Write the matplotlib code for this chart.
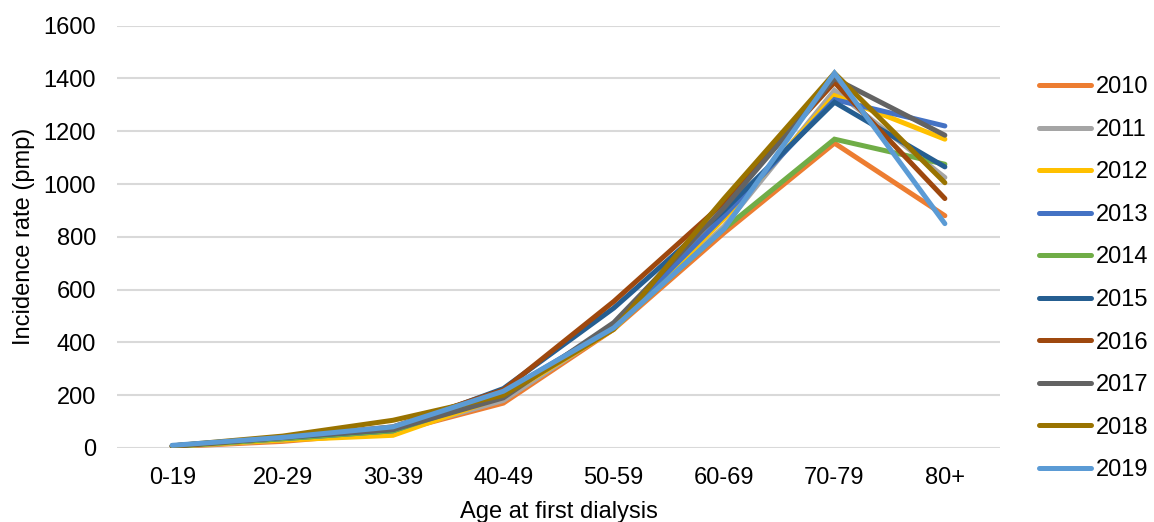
import matplotlib
matplotlib.use('Agg')
import matplotlib.pyplot as plt

# Incidence rate (pmp) by age at first dialysis, per year
age_groups = ['0-19', '20-29', '30-39', '40-49', '50-59', '60-69', '70-79', '80+']
years = ['2010', '2011', '2012', '2013', '2014', '2015', '2016', '2017', '2018', '2019']

rate_2010 = [5, 25, 60, 170, 450, 815, 1155, 880]
rate_2011 = [6, 30, 60, 180, 455, 840, 1355, 1025]
rate_2012 = [7, 30, 48, 195, 450, 870, 1335, 1170]
rate_2013 = [8, 35, 65, 210, 460, 880, 1320, 1220]
rate_2014 = [6, 35, 65, 200, 455, 830, 1170, 1075]
rate_2015 = [8, 40, 70, 225, 530, 900, 1310, 1065]
rate_2016 = [7, 40, 80, 220, 555, 930, 1385, 945]
rate_2017 = [8, 40, 70, 190, 475, 910, 1400, 1185]
rate_2018 = [8, 45, 105, 200, 450, 945, 1420, 1005]
rate_2019 = [10, 40, 80, 215, 455, 830, 1420, 850]

series = [rate_2010, rate_2011, rate_2012, rate_2013, rate_2014,
          rate_2015, rate_2016, rate_2017, rate_2018, rate_2019]

# Excel office palette
colors = ['#ED7D31', '#A5A5A5', '#FFC000', '#4472C4', '#70AD47',
          '#255E91', '#9E480E', '#636363', '#997300', '#5B9BD5']

plt.rcParams['font.family'] = ['Liberation Sans', 'DejaVu Sans']

fig = plt.figure(figsize=(11.54, 5.22), dpi=100)
ax = fig.add_axes([0.1014, 0.1418, 0.7652, 0.809])

x = range(len(age_groups))
for vals, year, col in zip(series, years, colors):
    ax.plot(x, vals, color=col, linewidth=3.6, label=year,
            solid_capstyle='round', solid_joinstyle='miter')

ax.set_xlim(-0.5, len(age_groups) - 0.5)
ax.set_ylim(0, 1600)
ax.set_yticks(range(0, 1601, 200))
ax.set_xticks(list(x))
ax.set_xticklabels(age_groups)

ax.grid(True, axis='y', color='#D9D9D9', linewidth=1.5)
ax.set_axisbelow(True)
for s in ax.spines.values():
    s.set_visible(False)

ax.tick_params(axis='y', length=0, pad=15, labelsize=17)
ax.tick_params(axis='x', length=0, pad=14, labelsize=17)
ax.set_xlabel('Age at first dialysis', fontsize=17, labelpad=8)
ax.set_ylabel('Incidence rate (pmp)', fontsize=17, labelpad=6)

fig.legend(loc='center left', bbox_to_anchor=(0.892, 0.466), frameon=False,
           fontsize=17, handlelength=2.2, handletextpad=0.2, labelspacing=0.87,
           borderaxespad=0)

fig.savefig('out.png', dpi=100)
